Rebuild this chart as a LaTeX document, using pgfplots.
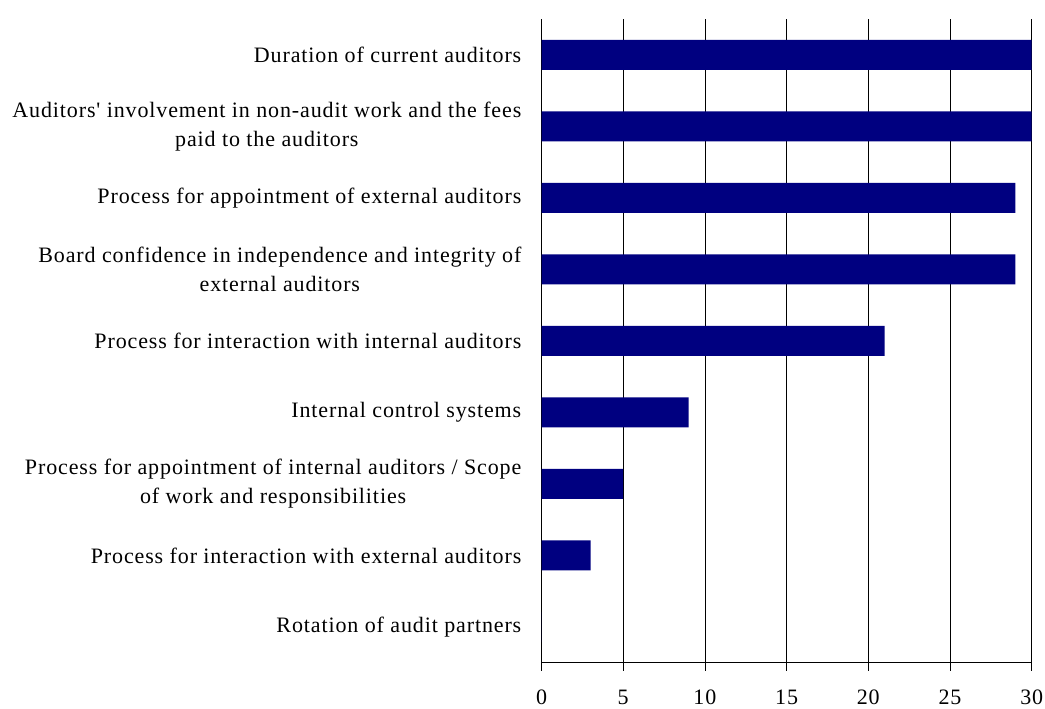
\documentclass[border=0pt]{standalone}
\usepackage{fontspec}
\setmainfont{Liberation Serif}[LetterSpace=4, Ligatures=TeXOff]
\usepackage{pgfplots}
\pgfplotsset{compat=1.18}
\definecolor{barnavy}{RGB}{0,0,128}
\begin{document}
\fontsize{22bp}{29bp}\selectfont
\begin{tikzpicture}
\path[use as bounding box] (0,0) rectangle (1045bp,709bp);
\begin{axis}[
  at={(541.5bp,46.3bp)}, anchor=south west,
  scale only axis, width=490.2bp, height=643.7bp,
  xbar, bar width=30bp,
  xmin=0, xmax=30, ymin=-0.5, ymax=8.5,
  y dir=reverse,
  axis lines*=left,
  axis line style={black, line width=0.8bp},
  xtick={0,5,...,30},
  xmajorgrids, major grid style={black, line width=0.8bp},
  tick align=outside, major tick length=8bp,
  tick style={black, line width=0.8bp},
  x tick label style={yshift=-12bp},
  /pgf/number format/assume math mode=true,
  ytick={0,...,8},
  y tick style={draw=none},
  yticklabels={
    Duration of current auditors,
    {Auditors' involvement in non-audit work and the fees\\paid to the auditors},
    Process for appointment of external auditors,
    {Board confidence in independence and integrity of\\external auditors},
    Process for interaction with internal auditors,
    Internal control systems,
    {Process for appointment of internal auditors / Scope\\of work and responsibilities},
    Process for interaction with external auditors,
    Rotation of audit partners},
  y tick label style={align=center, inner sep=0pt, xshift=-12bp},
]
\addplot[fill=barnavy, draw=none] coordinates {
  (30,0) (30,1) (29,2) (29,3) (21,4) (9,5) (5,6) (3,7) (0,8)};
\draw[black, line width=0.8bp] (axis cs:0,-0.5) -- ++(-8bp,0);
\end{axis}
\end{tikzpicture}
\end{document}
